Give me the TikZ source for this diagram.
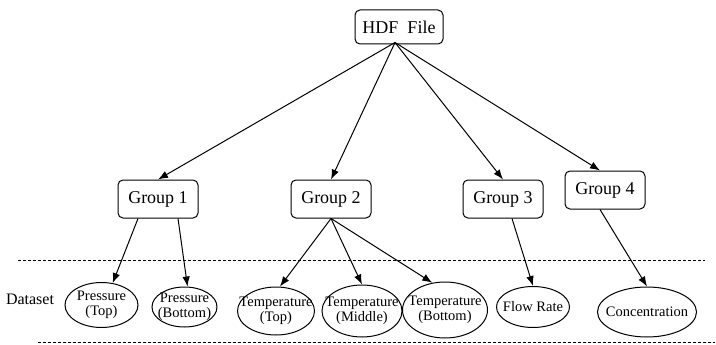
\documentclass[tikz,border=0pt]{standalone}
\usepackage{fontspec}
\setmainfont{Liberation Serif}
\usetikzlibrary{shapes.geometric,arrows.meta,positioning}

\tikzset{
  groupbox/.style = {draw, rounded corners = 5pt, line width = 1pt, minimum width = 80pt, minimum height = 38pt, font = \fontsize{18}{20}\selectfont},
  dataset/.style = {draw, ellipse, line width = 1pt, inner xsep = -10pt, inner ysep = 0pt, align = center, font = \fontsize{14.5}{15.5}\selectfont},
  link/.style = {-{Latex[length = 10pt, width = 7.5pt]}, line width = 1pt},
  sepline/.style = {densely dashed, thin}
}

\begin{document}
\begin{tikzpicture}[x = 1pt, y = -1pt]
\useasboundingbox (0,0) rectangle (716,345);
\node[groupbox, minimum width = 88pt, minimum height = 34pt] (hdf) at (399,27) {HDF\ \ File};
\node[groupbox] (g1) at (158,199) {Group 1};
\node[groupbox] (g2) at (331,199) {Group 2};
\node[groupbox] (g3) at (503,199) {Group 3};
\node[groupbox] (g4) at (605,190) {Group 4};
\node[font = \fontsize{16}{18}\selectfont] (ds) at (30,299) {Dataset};
\node[dataset, minimum width = 73pt, minimum height = 45pt] (p1) at (101.5,305) {Pressure\\(Top)};
\node[dataset, minimum width = 65pt, minimum height = 40pt] (p2) at (184.5,307) {Pressure\\(Bottom)};
\node[dataset, minimum width = 77pt, minimum height = 48pt] (t1) at (276,311) {Temperature\\(Top)};
\node[dataset, minimum width = 80pt, minimum height = 52pt] (t2) at (362,311) {Temperature\\(Middle)};
\node[dataset, minimum width = 85pt, minimum height = 56pt] (t3) at (445,310) {Temperature\\(Bottom)};
\node[dataset, minimum width = 73pt, minimum height = 41pt] (fr) at (533,307) {Flow Rate};
\node[dataset, minimum width = 99pt, minimum height = 50pt] (cn) at (647,312) {Concentration};
% separators
\coordinate (s1l) at (18,260);
\coordinate (s1r) at (705,260);
\coordinate (s2l) at (38,342);
\coordinate (s2r) at (715,342);
\draw[sepline] (s1l) -- (s1r);
\draw[sepline] (s2l) -- (s2r);
% links
\draw[link] ([xshift = -4pt, yshift = 2pt]hdf.south) -- (g1.north);
\draw[link] ([xshift = -4pt, yshift = 2pt]hdf.south) -- (g2.north);
\draw[link] ([xshift = -4pt, yshift = 2pt]hdf.south) -- (g3.north);
\draw[link] ([xshift = -4pt, yshift = 2pt]hdf.south) -- ([xshift = -5pt]g4.north);
\draw[link] ([xshift = -20pt]g1.south) -- (p1.63);
\draw[link] ([xshift = 20pt]g1.south) -- ([xshift = 3pt]p2.north);
\draw[link] (g2.south) -- ([xshift = 4pt]t1.north);
\draw[link] (g2.south) -- (t2.north);
\draw[link] (g2.south) -- (t3.115);
\draw[link] ([xshift = 9pt]g3.south) -- (fr.north);
\draw[link] ([xshift = -5pt]g4.south) -- (cn.north);
\end{tikzpicture}
\end{document}
